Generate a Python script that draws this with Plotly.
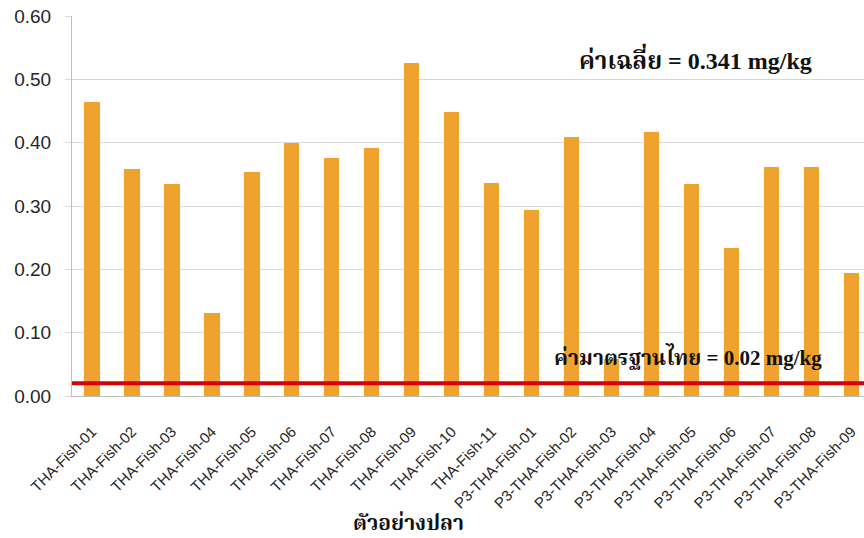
import plotly.graph_objects as go

# Mercury concentration per fish sample (mg/kg)
samples = [
    "THA-Fish-01", "THA-Fish-02", "THA-Fish-03", "THA-Fish-04", "THA-Fish-05",
    "THA-Fish-06", "THA-Fish-07", "THA-Fish-08", "THA-Fish-09", "THA-Fish-10",
    "THA-Fish-11",
    "P3-THA-Fish-01", "P3-THA-Fish-02", "P3-THA-Fish-03", "P3-THA-Fish-04",
    "P3-THA-Fish-05", "P3-THA-Fish-06", "P3-THA-Fish-07", "P3-THA-Fish-08",
    "P3-THA-Fish-09",
]
mercury = [
    0.465, 0.359, 0.334, 0.131, 0.354, 0.399, 0.376, 0.392, 0.526, 0.449,
    0.336,
    0.294, 0.409, 0.058, 0.417, 0.335, 0.233, 0.362, 0.362, 0.194,
]
mean_value = 0.341
thai_standard = 0.02
y_ticks = [0.0, 0.1, 0.2, 0.3, 0.4, 0.5, 0.6]

thai_bold = "Liberation Serif, Noto Serif Thai, Noto Sans Thai, Loma, Garuda, serif"
tick_font = "Liberation Sans, Arial, sans-serif"

fig = go.Figure()
fig.add_trace(go.Bar(
    x=list(range(len(samples))),
    y=mercury,
    width=0.38,
    marker=dict(color="#F0A22E", line=dict(width=0)),
    hoverinfo="skip",
))

# Thai standard limit line
fig.add_shape(
    type="line", xref="paper", yref="y",
    x0=0, x1=1, y0=thai_standard, y1=thai_standard,
    line=dict(color="#D40000", width=4),
    layer="above",
)

fig.add_annotation(
    xref="paper", yref="y", x=0.787, y=0.533,
    xanchor="center", yanchor="middle",
    text="<b>ค่าเฉลี่ย = %.3f mg/kg</b>" % mean_value,
    showarrow=False, font=dict(family=thai_bold, size=24, color="#111111"),
)
fig.add_annotation(
    xref="paper", yref="y", x=0.778, y=0.0616,
    xanchor="center", yanchor="middle",
    text="<b>ค่ามาตรฐานไทย = %.2f mg/kg</b>" % thai_standard,
    showarrow=False, font=dict(family=thai_bold, size=21, color="#111111"),
)
fig.add_annotation(
    xref="paper", yref="paper", x=0.4255, y=-0.334,
    xanchor="center", yanchor="middle",
    text="<b>ตัวอย่างปลา</b>",
    showarrow=False, font=dict(family=thai_bold, size=21, color="#111111"),
)

fig.update_layout(
    width=864, height=538,
    margin=dict(l=72, r=0, t=16, b=142, pad=0),
    paper_bgcolor="white", plot_bgcolor="white",
    showlegend=False,
    bargap=0,
)
fig.update_xaxes(
    range=[-0.5, 19.31],
    tickmode="array",
    tickvals=list(range(len(samples))),
    ticktext=samples,
    tickangle=-45,
    tickfont=dict(family=tick_font, size=15, color="#262626"),
    ticklabelstandoff=20,
    showgrid=False,
    showline=True, linecolor="#BFBFBF", linewidth=1,
    ticks="", zeroline=False,
    automargin=False,
)
fig.update_yaxes(
    range=[0, 0.6],
    tickmode="array",
    tickvals=y_ticks,
    ticktext=["%.2f" % v for v in y_ticks],
    tickfont=dict(family=tick_font, size=19, color="#262626"),
    ticklabelstandoff=10,
    showgrid=True, gridcolor="#D9D9D9", gridwidth=1,
    showline=True, linecolor="#BFBFBF", linewidth=1,
    ticks="outside", ticklen=6, tickcolor="#D9D9D9",
    zeroline=False,
    automargin=False,
)

fig.write_html("out.html")
